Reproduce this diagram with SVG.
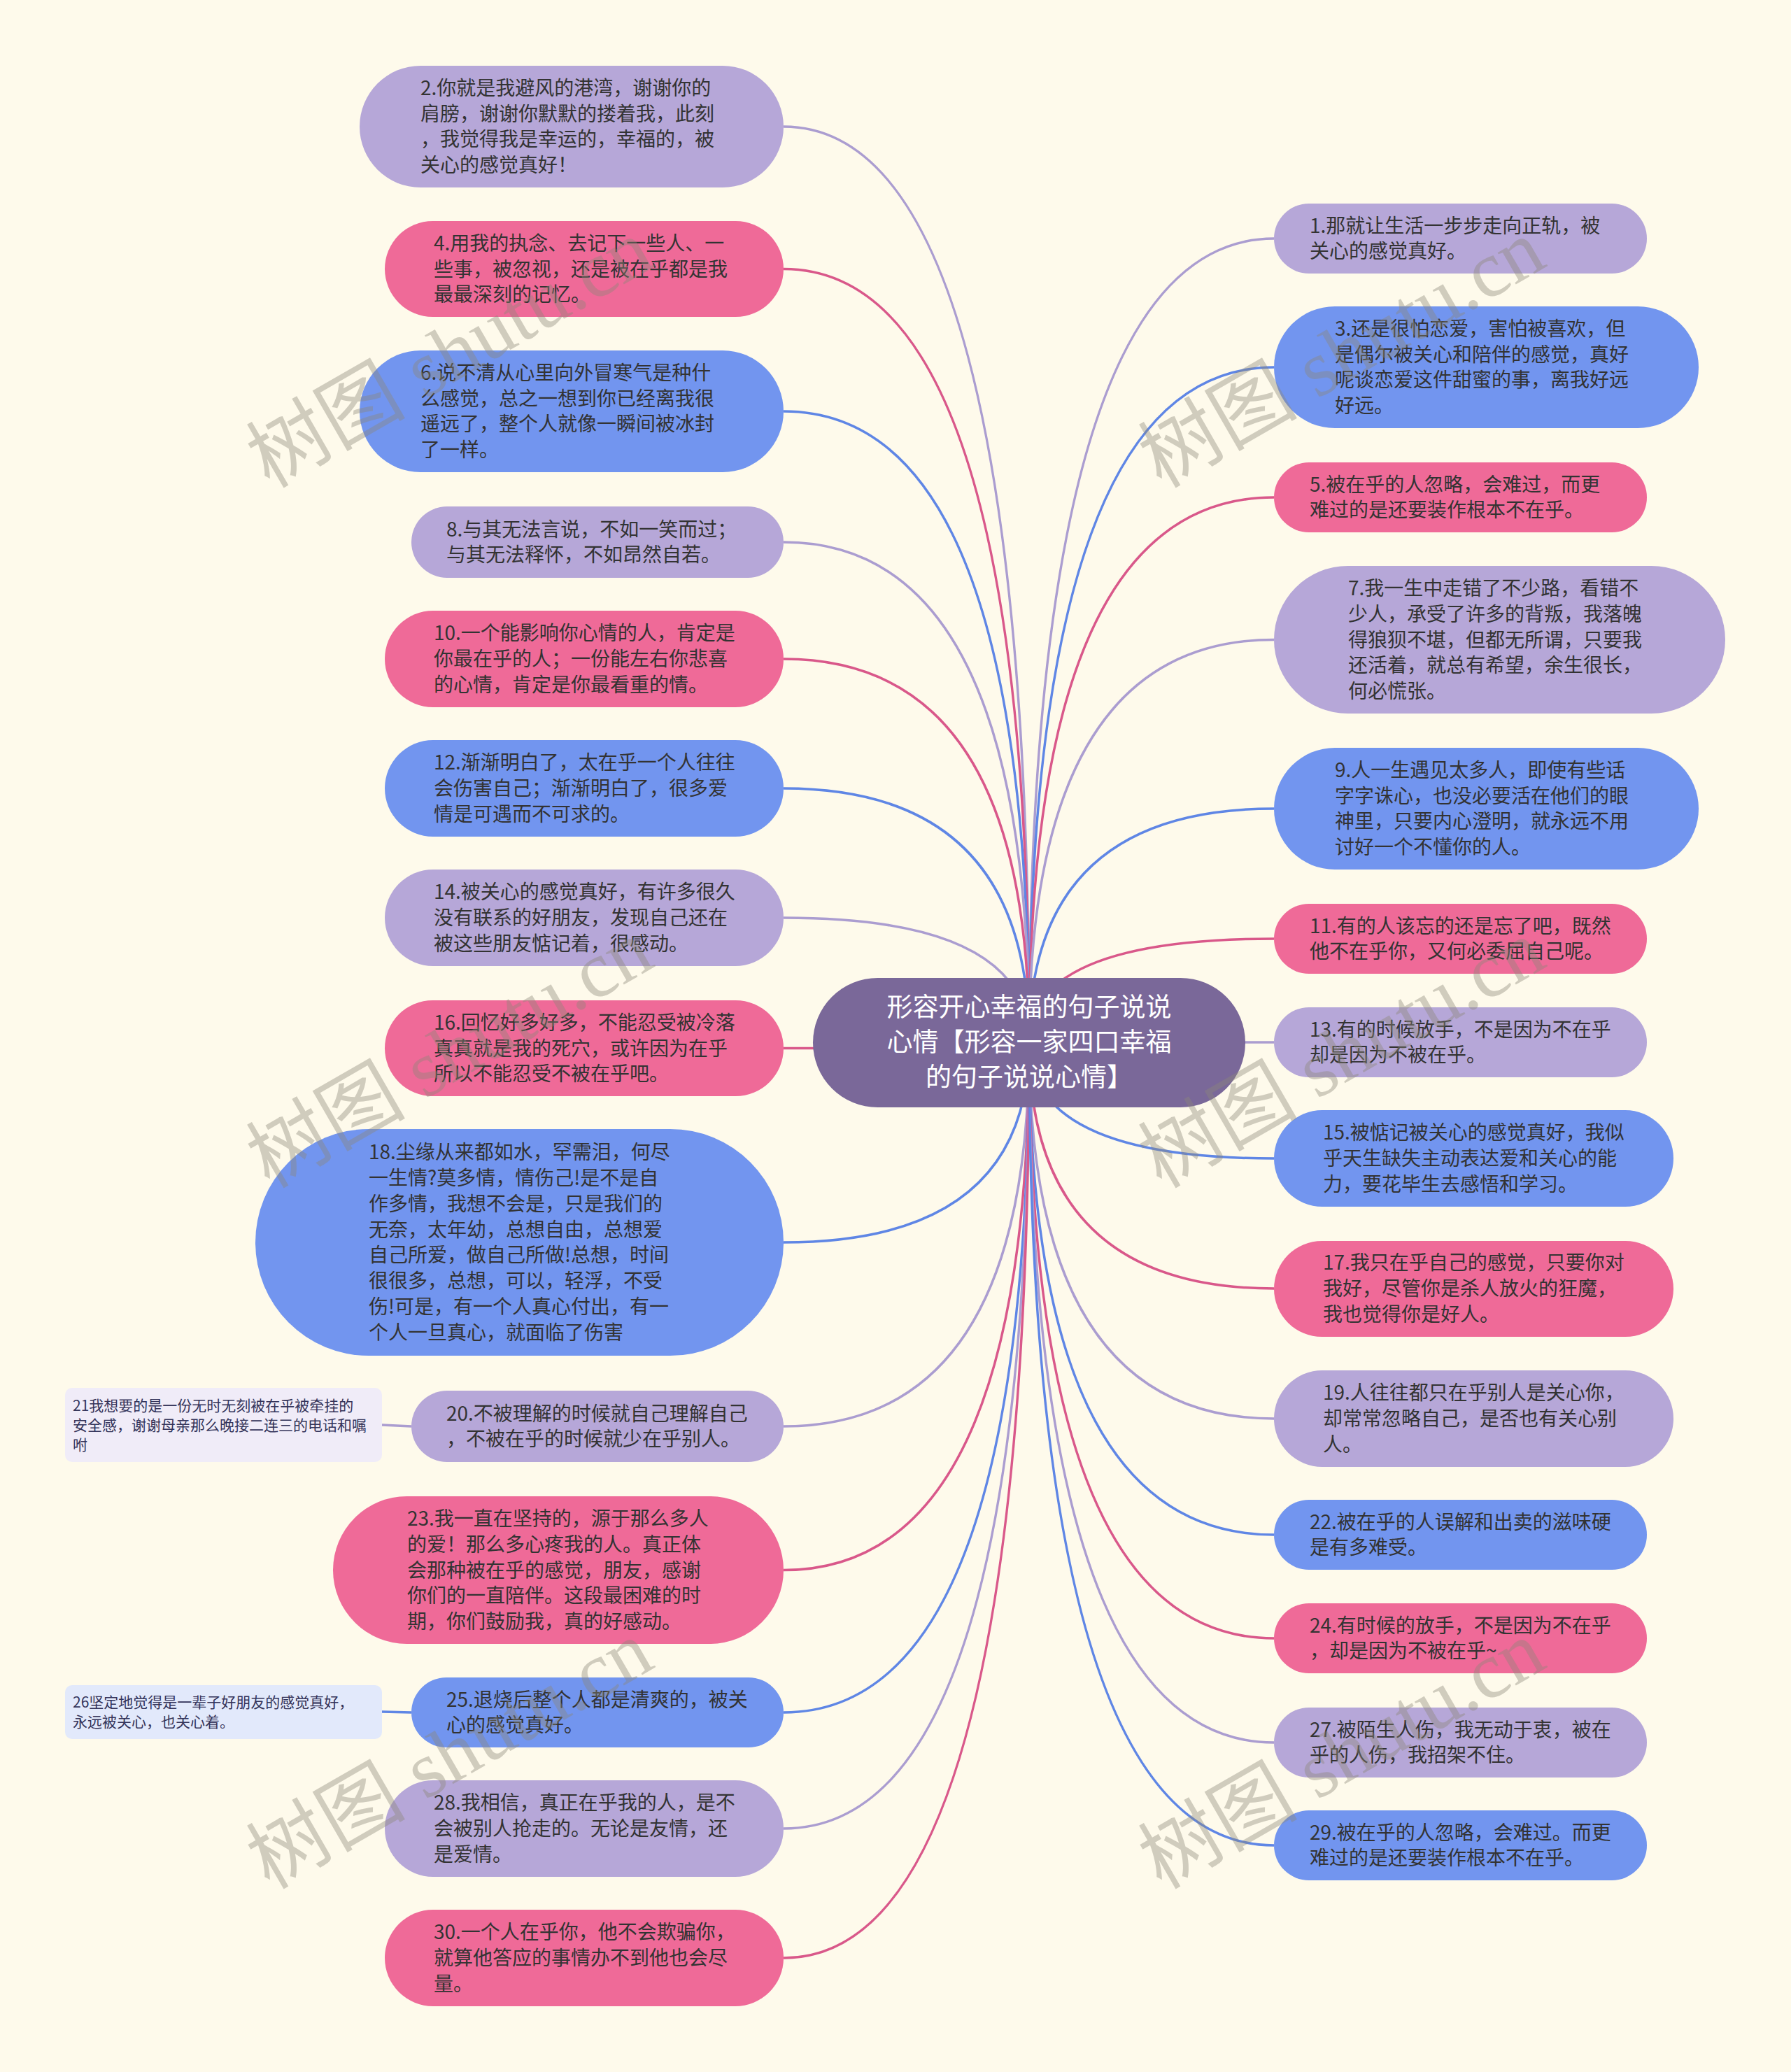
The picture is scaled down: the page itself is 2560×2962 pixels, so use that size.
<svg xmlns="http://www.w3.org/2000/svg" width="2560" height="2962" viewBox="0 0 2560 2962">
<style>
.t{font-family:"Noto Sans CJK SC","Noto Sans",sans-serif;font-size:28px;fill:#333}
.c{font-family:"Noto Sans CJK SC","Noto Sans",sans-serif;font-size:37px;fill:#fff;text-anchor:middle}
.s{font-family:"Noto Sans CJK SC","Noto Sans",sans-serif;font-size:21px;fill:#34345a}
.lav{fill:#b6a7d8}.pink{fill:#ef6a98}.blue{fill:#7295ef}
.ll{stroke:#ab9dd0}.lp{stroke:#d9588a}.lb{stroke:#5f86e5}
#connectors path{fill:none;stroke-width:3.5}
.wm{font-family:"Liberation Serif","Noto Sans CJK SC",serif;font-size:114px;fill:#8c8878;fill-opacity:0.4}
</style>
<rect width="2560" height="2962" fill="#fefaeb"/>
<g id="connectors">
<path class="ll" d="M1471 1490 Q1471 181 1120 181"/>
<path class="lp" d="M1471 1490 Q1471 384.5 1120 384.5"/>
<path class="lb" d="M1471 1490 Q1471 588 1120 588"/>
<path class="ll" d="M1471 1490 Q1471 775 1120 775"/>
<path class="lp" d="M1471 1490 Q1471 942 1120 942"/>
<path class="lb" d="M1471 1490 Q1471 1127 1120 1127"/>
<path class="ll" d="M1471 1490 Q1471 1312 1120 1312"/>
<path class="lp" d="M1471 1490 Q1471 1498.5 1120 1498.5"/>
<path class="lb" d="M1471 1490 Q1471 1776 1120 1776"/>
<path class="ll" d="M1471 1490 Q1471 2039 1120 2039"/>
<path class="lp" d="M1471 1490 Q1471 2244.5 1120 2244.5"/>
<path class="lb" d="M1471 1490 Q1471 2448 1120 2448"/>
<path class="ll" d="M1471 1490 Q1471 2614 1120 2614"/>
<path class="lp" d="M1471 1490 Q1471 2799 1120 2799"/>
<path class="ll" d="M1471 1490 Q1471 341 1821 341"/>
<path class="lb" d="M1471 1490 Q1471 525 1821 525"/>
<path class="lp" d="M1471 1490 Q1471 711 1821 711"/>
<path class="ll" d="M1471 1490 Q1471 914.5 1821 914.5"/>
<path class="lb" d="M1471 1490 Q1471 1156 1821 1156"/>
<path class="lp" d="M1471 1490 Q1471 1342 1821 1342"/>
<path class="ll" d="M1471 1490 Q1471 1490 1821 1490"/>
<path class="lb" d="M1471 1490 Q1471 1656 1821 1656"/>
<path class="lp" d="M1471 1490 Q1471 1842 1821 1842"/>
<path class="ll" d="M1471 1490 Q1471 2028 1821 2028"/>
<path class="lb" d="M1471 1490 Q1471 2194 1821 2194"/>
<path class="lp" d="M1471 1490 Q1471 2342 1821 2342"/>
<path class="ll" d="M1471 1490 Q1471 2491 1821 2491"/>
<path class="lb" d="M1471 1490 Q1471 2638 1821 2638"/>
<path class="ll" d="M546 2037 L588 2039"/>
<path class="lb" d="M546 2447 L588 2448"/>
</g>
<g id="center">
<rect x="1162" y="1398" width="618" height="185" rx="92.5" fill="#7a6899"/>
<text class="c" x="1471" y="1453">形容开心幸福的句子说说<tspan x="1471" dy="50">心情【形容一家四口幸福</tspan><tspan x="1471" dy="50">的句子说说心情】</tspan></text>
</g>
<g id="n2"><rect class="lav" x="514" y="94" width="606" height="174" rx="87"/>
<text class="t" x="601" y="135.8">2.你就是我避风的港湾，谢谢你的<tspan x="601" dy="36.8">肩膀，谢谢你默默的搂着我，此刻</tspan><tspan x="601" dy="36.8">，我觉得我是幸运的，幸福的，被</tspan><tspan x="601" dy="36.8">关心的感觉真好！</tspan></text></g>
<g id="n4"><rect class="pink" x="550" y="316" width="570" height="137" rx="68.5"/>
<text class="t" x="620" y="357.7">4.用我的执念、去记下一些人、一<tspan x="620" dy="36.8">些事，被忽视，还是被在乎都是我</tspan><tspan x="620" dy="36.8">最最深刻的记忆。</tspan></text></g>
<g id="n6"><rect class="blue" x="514" y="501" width="606" height="174" rx="87"/>
<text class="t" x="601" y="542.8">6.说不清从心里向外冒寒气是种什<tspan x="601" dy="36.8">么感觉，总之一想到你已经离我很</tspan><tspan x="601" dy="36.8">遥远了，整个人就像一瞬间被冰封</tspan><tspan x="601" dy="36.8">了一样。</tspan></text></g>
<g id="n8"><rect class="lav" x="588" y="724" width="532" height="102" rx="51"/>
<text class="t" x="638" y="766.6">8.与其无法言说，不如一笑而过；<tspan x="638" dy="36.8">与其无法释怀，不如昂然自若。</tspan></text></g>
<g id="n10"><rect class="pink" x="550" y="873" width="570" height="138" rx="69"/>
<text class="t" x="620" y="915.2">10.一个能影响你心情的人，肯定是<tspan x="620" dy="36.8">你最在乎的人；一份能左右你悲喜</tspan><tspan x="620" dy="36.8">的心情，肯定是你最看重的情。</tspan></text></g>
<g id="n12"><rect class="blue" x="550" y="1058" width="570" height="138" rx="69"/>
<text class="t" x="620" y="1100.2">12.渐渐明白了，太在乎一个人往往<tspan x="620" dy="36.8">会伤害自己；渐渐明白了，很多爱</tspan><tspan x="620" dy="36.8">情是可遇而不可求的。</tspan></text></g>
<g id="n14"><rect class="lav" x="550" y="1243" width="570" height="138" rx="69"/>
<text class="t" x="620" y="1285.2">14.被关心的感觉真好，有许多很久<tspan x="620" dy="36.8">没有联系的好朋友，发现自己还在</tspan><tspan x="620" dy="36.8">被这些朋友惦记着，很感动。</tspan></text></g>
<g id="n16"><rect class="pink" x="550" y="1430" width="570" height="137" rx="68.5"/>
<text class="t" x="620" y="1471.7">16.回忆好多好多，不能忍受被冷落<tspan x="620" dy="36.8">真真就是我的死穴，或许因为在乎</tspan><tspan x="620" dy="36.8">所以不能忍受不被在乎吧。</tspan></text></g>
<g id="n18"><rect class="blue" x="365" y="1614" width="755" height="324" rx="162"/>
<text class="t" x="527" y="1657.2">18.尘缘从来都如水，罕需泪，何尽<tspan x="527" dy="36.8">一生情?莫多情，情伤己!是不是自</tspan><tspan x="527" dy="36.8">作多情，我想不会是，只是我们的</tspan><tspan x="527" dy="36.8">无奈，太年幼，总想自由，总想爱</tspan><tspan x="527" dy="36.8">自己所爱，做自己所做!总想，时间</tspan><tspan x="527" dy="36.8">很很多，总想，可以，轻浮，不受</tspan><tspan x="527" dy="36.8">伤!可是，有一个人真心付出，有一</tspan><tspan x="527" dy="36.8">个人一旦真心，就面临了伤害</tspan></text></g>
<g id="n20"><rect class="lav" x="588" y="1988" width="532" height="102" rx="51"/>
<text class="t" x="638" y="2030.6">20.不被理解的时候就自己理解自己<tspan x="638" dy="36.8">，不被在乎的时候就少在乎别人。</tspan></text></g>
<g id="n21"><rect x="93" y="1984" width="453" height="106" rx="10" fill="#f0ecf8"/>
<text class="s" x="104" y="2016.5">21我想要的是一份无时无刻被在乎被牵挂的<tspan x="104" dy="28">安全感，谢谢母亲那么晚接二连三的电话和嘱</tspan><tspan x="104" dy="28">咐</tspan></text></g>
<g id="n23"><rect class="pink" x="476" y="2139" width="644" height="211" rx="105.5"/>
<text class="t" x="582" y="2180.9">23.我一直在坚持的，源于那么多人<tspan x="582" dy="36.8">的爱！那么多心疼我的人。真正体</tspan><tspan x="582" dy="36.8">会那种被在乎的感觉，朋友，感谢</tspan><tspan x="582" dy="36.8">你们的一直陪伴。这段最困难的时</tspan><tspan x="582" dy="36.8">期，你们鼓励我，真的好感动。</tspan></text></g>
<g id="n25"><rect class="blue" x="588" y="2398" width="532" height="100" rx="50"/>
<text class="t" x="638" y="2439.6">25.退烧后整个人都是清爽的，被关<tspan x="638" dy="36.8">心的感觉真好。</tspan></text></g>
<g id="n26"><rect x="93" y="2409" width="453" height="77" rx="10" fill="#e2e9fb"/>
<text class="s" x="104" y="2440.5">26坚定地觉得是一辈子好朋友的感觉真好，<tspan x="104" dy="28">永远被关心，也关心着。</tspan></text></g>
<g id="n28"><rect class="lav" x="550" y="2545" width="570" height="138" rx="69"/>
<text class="t" x="620" y="2587.2">28.我相信，真正在乎我的人，是不<tspan x="620" dy="36.8">会被别人抢走的。无论是友情，还</tspan><tspan x="620" dy="36.8">是爱情。</tspan></text></g>
<g id="n30"><rect class="pink" x="550" y="2730" width="570" height="138" rx="69"/>
<text class="t" x="620" y="2772.2">30.一个人在乎你，他不会欺骗你，<tspan x="620" dy="36.8">就算他答应的事情办不到他也会尽</tspan><tspan x="620" dy="36.8">量。</tspan></text></g>
<g id="n1"><rect class="lav" x="1821" y="291" width="533" height="100" rx="50"/>
<text class="t" x="1872" y="332.6">1.那就让生活一步步走向正轨，被<tspan x="1872" dy="36.8">关心的感觉真好。</tspan></text></g>
<g id="n3"><rect class="blue" x="1821" y="438" width="607" height="174" rx="87"/>
<text class="t" x="1908" y="479.8">3.还是很怕恋爱，害怕被喜欢，但<tspan x="1908" dy="36.8">是偶尔被关心和陪伴的感觉，真好</tspan><tspan x="1908" dy="36.8">呢谈恋爱这件甜蜜的事，离我好远</tspan><tspan x="1908" dy="36.8">好远。</tspan></text></g>
<g id="n5"><rect class="pink" x="1821" y="661" width="533" height="100" rx="50"/>
<text class="t" x="1872" y="702.6">5.被在乎的人忽略，会难过，而更<tspan x="1872" dy="36.8">难过的是还要装作根本不在乎。</tspan></text></g>
<g id="n7"><rect class="lav" x="1821" y="809" width="645" height="211" rx="105.5"/>
<text class="t" x="1927" y="850.9">7.我一生中走错了不少路，看错不<tspan x="1927" dy="36.8">少人，承受了许多的背叛，我落魄</tspan><tspan x="1927" dy="36.8">得狼狈不堪，但都无所谓，只要我</tspan><tspan x="1927" dy="36.8">还活着，就总有希望，余生很长，</tspan><tspan x="1927" dy="36.8">何必慌张。</tspan></text></g>
<g id="n9"><rect class="blue" x="1821" y="1069" width="607" height="174" rx="87"/>
<text class="t" x="1908" y="1110.8">9.人一生遇见太多人，即使有些话<tspan x="1908" dy="36.8">字字诛心，也没必要活在他们的眼</tspan><tspan x="1908" dy="36.8">神里，只要内心澄明，就永远不用</tspan><tspan x="1908" dy="36.8">讨好一个不懂你的人。</tspan></text></g>
<g id="n11"><rect class="pink" x="1821" y="1292" width="533" height="100" rx="50"/>
<text class="t" x="1872" y="1333.6">11.有的人该忘的还是忘了吧，既然<tspan x="1872" dy="36.8">他不在乎你，又何必委屈自己呢。</tspan></text></g>
<g id="n13"><rect class="lav" x="1821" y="1440" width="533" height="100" rx="50"/>
<text class="t" x="1872" y="1481.6">13.有的时候放手，不是因为不在乎<tspan x="1872" dy="36.8">却是因为不被在乎。</tspan></text></g>
<g id="n15"><rect class="blue" x="1821" y="1587" width="571" height="138" rx="69"/>
<text class="t" x="1891" y="1629.2">15.被惦记被关心的感觉真好，我似<tspan x="1891" dy="36.8">乎天生缺失主动表达爱和关心的能</tspan><tspan x="1891" dy="36.8">力，要花毕生去感悟和学习。</tspan></text></g>
<g id="n17"><rect class="pink" x="1821" y="1774" width="571" height="137" rx="68.5"/>
<text class="t" x="1891" y="1815.2">17.我只在乎自己的感觉，只要你对<tspan x="1891" dy="36.8">我好，尽管你是杀人放火的狂魔，</tspan><tspan x="1891" dy="36.8">我也觉得你是好人。</tspan></text></g>
<g id="n19"><rect class="lav" x="1821" y="1959" width="571" height="138" rx="69"/>
<text class="t" x="1891" y="2001.2">19.人往往都只在乎别人是关心你，<tspan x="1891" dy="36.8">却常常忽略自己，是否也有关心别</tspan><tspan x="1891" dy="36.8">人。</tspan></text></g>
<g id="n22"><rect class="blue" x="1821" y="2144" width="533" height="100" rx="50"/>
<text class="t" x="1872" y="2185.6">22.被在乎的人误解和出卖的滋味硬<tspan x="1872" dy="36.8">是有多难受。</tspan></text></g>
<g id="n24"><rect class="pink" x="1821" y="2292" width="533" height="100" rx="50"/>
<text class="t" x="1872" y="2333.6">24.有时候的放手，不是因为不在乎<tspan x="1872" dy="36.8">，却是因为不被在乎~</tspan></text></g>
<g id="n27"><rect class="lav" x="1821" y="2441" width="533" height="100" rx="50"/>
<text class="t" x="1872" y="2482.6">27.被陌生人伤，我无动于衷，被在<tspan x="1872" dy="36.8">乎的人伤，我招架不住。</tspan></text></g>
<g id="n29"><rect class="blue" x="1821" y="2588" width="533" height="100" rx="50"/>
<text class="t" x="1872" y="2629.6">29.被在乎的人忽略，会难过。而更<tspan x="1872" dy="36.8">难过的是还要装作根本不在乎。</tspan></text></g>
<g id="watermarks">
<text class="wm" transform="translate(385 699) rotate(-30)">树图 shutu.cn</text>
<text class="wm" transform="translate(1660 699) rotate(-30)">树图 shutu.cn</text>
<text class="wm" transform="translate(385 1700) rotate(-30)">树图 shutu.cn</text>
<text class="wm" transform="translate(1660 1700) rotate(-30)">树图 shutu.cn</text>
<text class="wm" transform="translate(385 2702) rotate(-30)">树图 shutu.cn</text>
<text class="wm" transform="translate(1660 2702) rotate(-30)">树图 shutu.cn</text>
</g>
</svg>
